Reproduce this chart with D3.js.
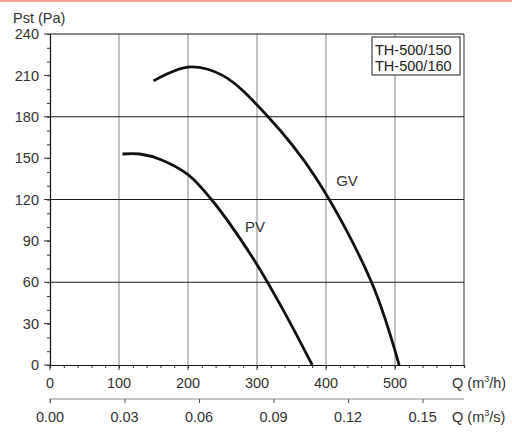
<!DOCTYPE html>
<html>
<head>
<meta charset="utf-8">
<script src="https://cdn.jsdelivr.net/npm/d3@7"></script>
<style>
  body { margin: 0; background: #fff; }
  svg { font-family: "Liberation Sans", Arial, sans-serif; }
</style>
</head>
<body>
<svg id="chart" width="512" height="432"></svg>
<script>
// fan curves, Q in m3/h, Pst in Pa
let pvQ = [105, 130, 160, 200, 234, 296, 340, 380];
let pvP = [153, 153, 149, 138, 120, 76, 38, 0];
let gvQ = [150, 200, 250, 316, 385, 466, 506];
let gvP = [206, 216, 210, 180, 136, 60, 0];

let yTicks = [0, 30, 60, 90, 120, 150, 180, 210, 240];
let xTicks = [0, 100, 200, 300, 400, 500];
let qsTicks = [0, 0.03, 0.06, 0.09, 0.12, 0.15];
let hLines = [60, 120, 180];
let legendLines = ["TH-500/150", "TH-500/160"];

let svg = d3.select("#chart");
let mLeft = 50, mRight = 464, mTop = 34, mBottom = 365;
let fs = 14.5;

let x = d3.scaleLinear().domain([0, 600]).range([mLeft, mRight]);
let xs = d3.scaleLinear().domain([0, 600 / 3600]).range([mLeft, mRight]);
let y = d3.scaleLinear().domain([0, 240]).range([mBottom, mTop]);

// salmon line on top
svg.append("rect").attr("x", 0).attr("y", 0).attr("width", 512).attr("height", 2).attr("fill", "#f2a592");

// vertical grid
svg.append("g").selectAll("line").data(xTicks.slice(1).concat([600])).join("line")
  .attr("x1", d => x(d)).attr("x2", d => x(d))
  .attr("y1", mTop).attr("y2", mBottom)
  .attr("stroke", d => d == 600 ? "#555" : "#9a9a9a").attr("stroke-width", 1.2);

// horizontal grid
svg.append("g").selectAll("line").data(hLines.concat([240])).join("line")
  .attr("x1", mLeft).attr("x2", mRight)
  .attr("y1", d => y(d)).attr("y2", d => y(d))
  .attr("stroke", "#1a1a1a").attr("stroke-width", 1.2);

// left axis
let yAxis = svg.append("g").attr("transform", "translate(" + mLeft + ",0)")
  .call(d3.axisLeft(y).tickValues(d3.range(0, 241, 10)).tickSize(3).tickFormat(""));
yAxis.select(".domain").attr("stroke", "#111").attr("stroke-width", 1.2);
yAxis.selectAll(".tick line").attr("stroke", "#333");
svg.append("g").selectAll("line").data(yTicks).join("line")
  .attr("x1", mLeft - 6).attr("x2", mLeft)
  .attr("y1", d => y(d)).attr("y2", d => y(d)).attr("stroke", "#333");
svg.append("g").selectAll("text").data(yTicks).join("text")
  .attr("x", mLeft - 11).attr("y", d => y(d)).attr("dy", "0.36em")
  .attr("text-anchor", "end").attr("font-size", fs).attr("fill", "#333")
  .text(d => d);

// bottom axis (m3/h)
let xAxis = svg.append("g").attr("transform", "translate(0," + mBottom + ")")
  .call(d3.axisBottom(x).tickValues(d3.range(0, 601, 20)).tickSize(3).tickFormat(""));
xAxis.select(".domain").attr("stroke", "#111").attr("stroke-width", 1.2);
xAxis.selectAll(".tick line").attr("stroke", "#333");
svg.append("g").selectAll("line").data(xTicks).join("line")
  .attr("x1", d => x(d)).attr("x2", d => x(d))
  .attr("y1", mBottom).attr("y2", mBottom + 5).attr("stroke", "#333");
svg.append("g").selectAll("text").data(xTicks).join("text")
  .attr("x", d => x(d)).attr("y", 388)
  .attr("text-anchor", "middle").attr("font-size", fs).attr("fill", "#333")
  .text(d => d);

// second axis (m3/s)
let sAxis = svg.append("g").attr("transform", "translate(0,399)")
  .call(d3.axisBottom(xs).tickValues(qsTicks).tickSize(4).tickFormat(""));
sAxis.select(".domain").attr("stroke", "#888").attr("stroke-width", 1.2).attr("d", "M" + mLeft + ",4V0H" + mRight);
sAxis.selectAll(".tick line").attr("stroke", "#555");
svg.append("g").selectAll("text").data(qsTicks).join("text")
  .attr("x", d => xs(d)).attr("y", 421.5)
  .attr("text-anchor", "middle").attr("font-size", fs).attr("fill", "#333")
  .text(d3.format(".2f"));

// unit labels
function unitLabel(yPos, tail) {
  let t = svg.append("text").attr("x", 452).attr("y", yPos).attr("font-size", fs).attr("fill", "#333");
  t.append("tspan").text("Q (m");
  t.append("tspan").attr("font-size", 9).attr("dy", -6).text("3");
  t.append("tspan").attr("dy", 6).text(tail);
}
unitLabel(388, "/h)");
unitLabel(421.5, "/s)");

svg.append("text").attr("x", 13).attr("y", 23).attr("font-size", fs).attr("fill", "#333").text("Pst (Pa)");

// curves
let line = d3.line().x(d => x(d[0])).y(d => y(d[1])).curve(d3.curveCatmullRom.alpha(0.5));
svg.append("path").datum(d3.zip(pvQ, pvP)).attr("d", line)
  .attr("fill", "none").attr("stroke", "#111").attr("stroke-width", 2.8);
svg.append("path").datum(d3.zip(gvQ, gvP)).attr("d", line)
  .attr("fill", "none").attr("stroke", "#111").attr("stroke-width", 2.8);

svg.append("text").attr("x", 255).attr("y", 232).attr("text-anchor", "middle")
  .attr("font-size", 15).attr("fill", "#333").text("PV");
svg.append("text").attr("x", 347).attr("y", 186).attr("text-anchor", "middle")
  .attr("font-size", 15).attr("fill", "#333").text("GV");

// legend box
svg.append("rect").attr("x", 372).attr("y", 37).attr("width", 88).attr("height", 38)
  .attr("fill", "#fff").attr("stroke", "#444").attr("stroke-width", 1.2);
svg.append("g").selectAll("text").data(legendLines).join("text")
  .attr("x", 375).attr("y", (d, i) => 54.5 + i * 16.5)
  .attr("font-size", fs).attr("fill", "#222").text(d => d);
</script>
</body>
</html>
